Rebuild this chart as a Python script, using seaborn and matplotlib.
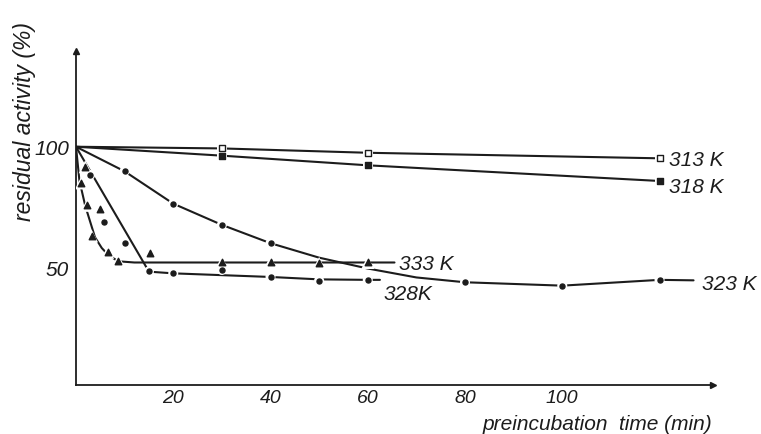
import matplotlib
matplotlib.use("Agg")
import matplotlib.pyplot as plt
import seaborn as sns
from matplotlib import font_manager

# preincubation time (min) and residual activity (%)
t_313 = [0, 30, 60, 120]
a_313 = [100, 99.3, 97.5, 95.2]

t_318 = [0, 30, 60, 120]
a_318 = [100, 96.3, 92.3, 85.8]

# measured points
t_323 = [10, 20, 30, 40, 80, 100, 120]
a_323 = [89.9, 76.4, 67.6, 60, 43.8, 42.4, 44.8]
t_328 = [2.9, 5.8, 10, 15, 20, 30, 40, 50, 60]
a_328 = [88.3, 68.6, 60, 48.3, 47.5, 48.9, 46.1, 44.5, 44.8]
t_333 = [1.1, 1.9, 2.3, 3.2, 5, 6.5, 8.7, 15.3, 30, 40, 50, 60]
a_333 = [85, 91.7, 75.7, 63, 74, 56.2, 52.8, 55.8, 52, 52.2, 51.6, 52]

# hand drawn curves through the points
curve_t_323 = [0, 10, 20, 30, 40, 50, 60, 70, 80, 100, 120, 127]
curve_a_323 = [100, 89.8, 76.4, 67.6, 60, 54, 49.5, 45.8, 43.8, 42.4, 44.8, 44.6]
curve_t_328 = [0, 15, 20, 40, 50, 60, 62.5]
curve_a_328 = [100, 48.2, 47.5, 46, 45, 44.8, 44.8]
curve_t_333 = [0, 0.7, 1.9, 3.9, 5.3, 6.7, 8.7, 12, 60, 65.5]
curve_a_333 = [100, 86, 75.5, 62.5, 58, 55, 52.5, 52, 52, 52]

labels = ["313 K", "318 K", "323 K", "333 K", "328K"]
label_x = [122, 122, 128.7, 66.4, 63.3]
label_y = [94.8, 83.5, 43.1, 51.7, 39.0]

sns.set_style("white")
names = {f.name for f in font_manager.fontManager.ttflist}
if "Liberation Sans Narrow" in names:
    narrow, nsize, tsize = "Liberation Sans Narrow", 17, 16
else:
    narrow, nsize, tsize = "Liberation Sans", 15, 14
plt.rcParams["font.family"] = ["Liberation Sans", "DejaVu Sans"]

ink = "#1c1c1c"
fig = plt.figure(figsize=(7.61, 4.35), dpi=100)
ax = fig.add_axes([76 / 761, 1 - 386 / 435, (713 - 76) / 761, (386 - 52) / 435])

lines = [(t_313, a_313), (t_318, a_318), (curve_t_323, curve_a_323),
         (curve_t_328, curve_a_328), (curve_t_333, curve_a_333)]
for tx, ay in lines:
    sns.lineplot(x=tx, y=ay, sort=False, estimator=None, color=ink, lw=1.5, ax=ax, zorder=2)

pts = [(t_313[1:], a_313[1:], "s", 13, "white"),
       (t_318[1:], a_318[1:], "s", 13, ink),
       (t_323, a_323, "o", 13, ink),
       (t_328, a_328, "o", 13, ink),
       (t_333, a_333, "^", 22, ink)]
for tx, ay, m, s, fc in pts:
    # white halo makes the little gap in the line around each point
    sns.scatterplot(x=tx, y=ay, marker=m, s=s * 4, color="white", edgecolor="none",
                    ax=ax, zorder=3, legend=False)
    sns.scatterplot(x=tx, y=ay, marker=m, s=s, color=fc, edgecolor=ink, linewidth=1,
                    ax=ax, zorder=4, legend=False)

for lab, lx, ly in zip(labels, label_x, label_y):
    ax.text(lx, ly, lab, family=narrow, style="italic", fontsize=nsize, color=ink,
            ha="left", va="center")

ax.set_xlim(0, 131)
ax.set_ylim(1.2, 139.7)
ax.set_xticks([20, 40, 60, 80, 100])
ax.set_yticks([50, 100])
ax.tick_params(axis="x", direction="inout", length=5, width=1, color=ink, pad=0.5)
ax.tick_params(axis="y", direction="out", length=4, width=1, color=ink, pad=1)
for lab in ax.get_xticklabels():
    lab.set_fontsize(tsize)
for lab in ax.get_yticklabels():
    lab.set_fontsize(nsize)
for lab in ax.get_xticklabels() + ax.get_yticklabels():
    lab.set_family(narrow)
    lab.set_style("italic")
    lab.set_color(ink)

sns.despine(ax=ax)
for side in ["left", "bottom"]:
    ax.spines[side].set_color(ink)
    ax.spines[side].set_linewidth(1.3)
ax.plot(1, 1.2, ">", color=ink, ms=5, transform=ax.get_yaxis_transform(), clip_on=False)
ax.plot(0, 1, "^", color=ink, ms=5, transform=ax.get_xaxis_transform(), clip_on=False)

fig.text(25 / 761, 1 - 122 / 435, "residual activity (%)", rotation=90, style="italic",
         fontsize=16.5, color=ink, ha="center", va="center")
fig.text(712 / 761, 1 - 434.5 / 435, "preincubation  time (min)", style="italic",
         fontsize=15, color=ink, ha="right", va="bottom")

fig.savefig("out.png", dpi=100)
